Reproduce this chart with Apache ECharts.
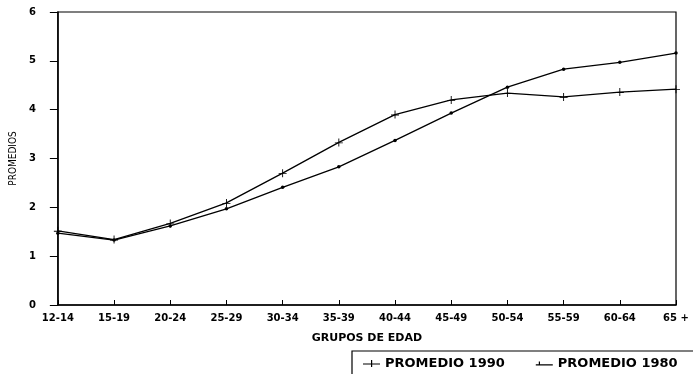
<!DOCTYPE html>
<html>
<head>
<meta charset="utf-8">
<script src="https://cdn.jsdelivr.net/npm/echarts@6/dist/echarts.min.js"></script>
<style>
html,body{margin:0;padding:0;background:#fff;}
#chart{width:693px;height:374px;}
</style>
</head>
<body>
<div id="chart"></div>
<script>
var categories = ['12-14','15-19','20-24','25-29','30-34','35-39','40-44','45-49','50-54','55-59','60-64','65 +'];
var promedio1990 = [1.52, 1.34, 1.67, 2.09, 2.70, 3.33, 3.90, 4.20, 4.34, 4.26, 4.36, 4.42];
var promedio1980 = [1.47, 1.33, 1.62, 1.97, 2.41, 2.83, 3.37, 3.93, 4.46, 4.83, 4.97, 5.16];
var yTicks = [0, 1, 2, 3, 4, 5, 6];

var crossPath = 'path://M0,4.5 L4,4.5 L4,0 L5,0 L5,4.5 L9,4.5 L9,5.5 L5,5.5 L5,9 L4,9 L4,5.5 L0,5.5 Z';
var legendIcon1 = 'path://M0,4.4 L8,4.4 L8,1 L9.2,1 L9.2,4.4 L17,4.4 L17,5.6 L9.2,5.6 L9.2,8 L8,8 L8,5.6 L0,5.6 Z';
var legendIcon2 = 'path://M0,4.4 L3,4.4 L3,1.5 L4.2,1.5 L4.2,4.4 L17,4.4 L17,5.6 L0,5.6 Z';

var chart = echarts.init(document.getElementById('chart'), null, {renderer: 'canvas'});
var tickFont = {fontFamily: 'DejaVu Sans', fontWeight: 'bold', fontSize: 10, color: '#000'};

chart.setOption({
  animation: false,
  backgroundColor: '#fff',
  grid: {
    left: 57, right: 17, top: 12, bottom: 69,
    show: true, borderColor: '#000', borderWidth: 1.2, backgroundColor: 'transparent'
  },
  legend: {
    left: 352, top: 351, width: 600,
    orient: 'horizontal',
    padding: [6, 60, 30, 11],
    borderColor: '#000', borderWidth: 1.2,
    itemWidth: 17, itemHeight: 10, itemGap: 31,
    data: [
      {name: 'PROMEDIO 1990', icon: legendIcon1},
      {name: 'PROMEDIO 1980', icon: legendIcon2}
    ],
    textStyle: {fontFamily: 'DejaVu Sans', fontWeight: 'bold', fontSize: 13, color: '#000'}
  },
  xAxis: {
    type: 'category',
    data: categories,
    boundaryGap: false,
    name: 'GRUPOS DE EDAD',
    nameLocation: 'middle',
    nameGap: 28,
    nameTextStyle: {fontFamily: 'DejaVu Sans', fontWeight: 'bold', fontSize: 11, color: '#000'},
    axisLine: {lineStyle: {color: '#000', width: 1.5}},
    axisTick: {inside: true, length: 5, alignWithLabel: true, lineStyle: {color: '#000', width: 1}},
    axisLabel: Object.assign({margin: 8, interval: 0}, tickFont),
    splitLine: {show: false}
  },
  yAxis: {
    type: 'value',
    min: yTicks[0], max: yTicks[yTicks.length - 1], interval: 1,
    name: 'PROMEDIOS',
    nameLocation: 'middle',
    nameGap: 36,
    nameRotate: 90,
    nameTextStyle: {fontFamily: 'Liberation Sans Narrow, DejaVu Sans Condensed, sans-serif', fontSize: 10, color: '#000'},
    axisLine: {show: true, lineStyle: {color: '#000', width: 1.5}},
    axisTick: {show: true, inside: false, length: 8, lineStyle: {color: '#000', width: 1}},
    axisLabel: Object.assign({margin: 22}, tickFont),
    splitLine: {show: false}
  },
  series: [
    {
      name: 'PROMEDIO 1990',
      type: 'line',
      data: promedio1990,
      symbol: crossPath,
      symbolSize: 8,
      lineStyle: {color: '#000', width: 1.3},
      itemStyle: {color: '#000'},
      z: 3
    },
    {
      name: 'PROMEDIO 1980',
      type: 'line',
      data: promedio1980,
      symbol: 'circle',
      symbolSize: 3.5,
      lineStyle: {color: '#000', width: 1.3},
      itemStyle: {color: '#000'},
      z: 3
    }
  ]
});
</script>
</body>
</html>
